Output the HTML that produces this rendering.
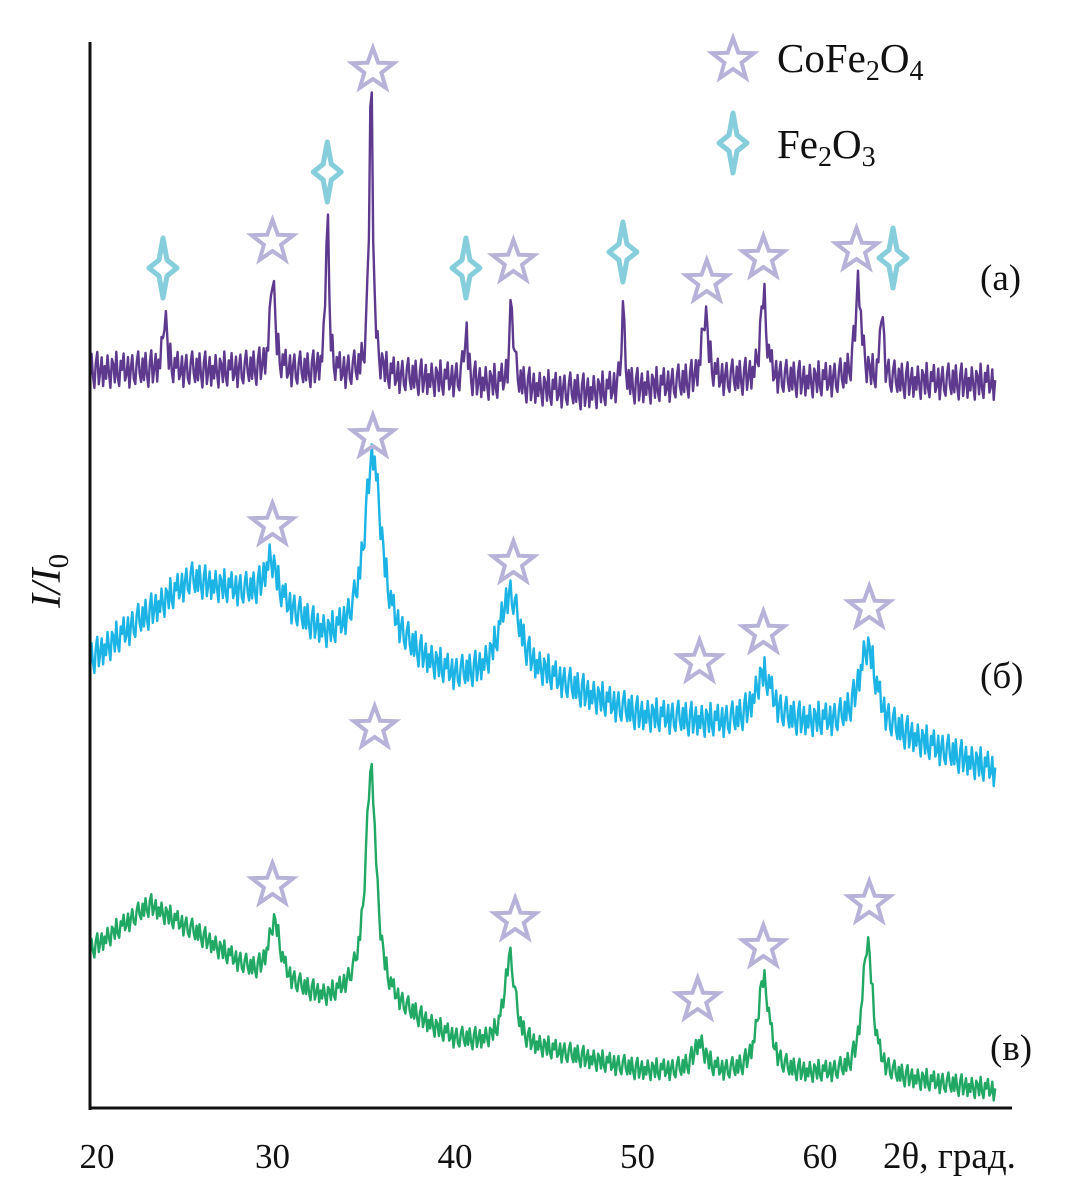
<!DOCTYPE html>
<html><head><meta charset="utf-8"><style>
html,body{margin:0;padding:0;background:#fff;}
svg text{font-family:"Liberation Serif","DejaVu Serif",serif;fill:#111;}
</style></head><body>
<svg id="chart" width="1069" height="1197" viewBox="0 0 1069 1197" xmlns="http://www.w3.org/2000/svg">
<g id="series"></g>
<g id="markers"></g>
<line x1="90" y1="42" x2="90" y2="1110" stroke="#111" stroke-width="3"/>
<line x1="89" y1="1108" x2="1012" y2="1108" stroke="#111" stroke-width="3"/>
<g id="xticks"></g>
<text x="883" y="1168" font-size="37">2θ, град.</text>
<text transform="translate(60,608) rotate(-90)" font-size="42" font-style="italic">I/I<tspan font-size="29" dy="8" font-style="normal">0</tspan></text>
<text x="777" y="72" font-size="41">CoFe<tspan font-size="28" dy="8">2</tspan><tspan dy="-8">O</tspan><tspan font-size="28" dy="8">4</tspan></text>
<text x="777" y="158" font-size="41">Fe<tspan font-size="28" dy="8">2</tspan><tspan dy="-8">O</tspan><tspan font-size="28" dy="8">3</tspan></text>
<text x="980" y="290" font-size="37">(а)</text>
<text x="980" y="688" font-size="37">(б)</text>
<text x="990" y="1060" font-size="37">(в)</text>
</svg>
<script>
// x tick labels
const xTicks = [20, 30, 40, 50, 60];
// Series (a) — purple
const baseA_x = [20, 30, 40, 47, 55, 69.5];
const baseA_y = [370, 370, 380, 392, 380, 382];
const peaksA_pos = [24.1, 30.0, 33.0, 35.4, 40.6, 43.1, 49.2, 53.7, 56.9, 62.1, 63.4];
const peaksA_h   = [60, 100, 170, 300, 55, 88, 80, 70, 85, 98, 78];
const peaksA_w   = [0.12, 0.15, 0.1, 0.12, 0.1, 0.12, 0.1, 0.2, 0.2, 0.2, 0.1];
// Series (б) — cyan
const baseB_x = [20, 25.5, 30, 33, 36, 40, 45, 50, 55, 60, 65, 69.5];
const baseB_y = [660, 580, 600, 640, 640, 680, 680, 715, 725, 725, 740, 770];
const peaksB_pos = [29.9, 35.5, 43.0, 56.9, 62.6];
const peaksB_h   = [40, 185, 85, 50, 85];
const peaksB_w   = [0.4, 0.55, 0.7, 0.6, 0.6];
// Series (в) — green
const baseC_x = [20, 23.3, 26, 29, 33, 35, 40, 45, 50, 55, 60, 65, 69.5];
const baseC_y = [950, 905, 935, 975, 1000, 990, 1040, 1050, 1070, 1075, 1075, 1080, 1090];
const peaksC_pos = [30.1, 35.4, 43.0, 53.4, 56.9, 62.6];
const peaksC_h   = [60, 225, 90, 30, 95, 135];
const peaksC_w   = [0.4, 0.35, 0.35, 0.4, 0.4, 0.35];
// hand-typed noise pattern
const noise = [0.6,-0.9,0.3,1.0,-0.4,-1.0,0.8,0.1,-0.7,0.9,-0.2,0.5,-0.8,0.2,1.0,-0.6,-0.3,0.7,-1.0,0.4,0.9,-0.5,0.0,-0.9,0.6,0.3,-0.7,1.0,-0.1,-0.8,0.5,0.8,-0.4,-1.0,0.2,0.7,-0.6];
// markers
const starX = [30.0,35.5,43.2,53.8,56.9,62.0, 30.0,35.5,43.2,53.4,56.9,62.7, 30.0,35.6,43.3,53.3,56.9,62.7];
const starY = [242,70,262,282,258,250, 525,437,563,662,633,608, 885,728,920,1000,947,903];
const feX = [24.0, 33.0, 40.6, 49.2, 64.0];
const feY = [268, 172, 268, 252, 258];

const NS = "http://www.w3.org/2000/svg";
function xs(d){ return 90 + (d - 20) * 18.25; }
function interp(xa, ya, x){
  for (let i = 0; i < xa.length - 1; i++) if (x <= xa[i+1]) return ya[i] + (ya[i+1]-ya[i])*(x-xa[i])/(xa[i+1]-xa[i]);
  return ya[ya.length-1];
}
function drawSeries(bx, by, pp, ph, pw, amp, color, name){
  let pts = [];
  let k = 0;
  for (let d = 20; d <= 69.6; d += 0.08, k++){
    let y = interp(bx, by, d);
    for (let j = 0; j < pp.length; j++){ const t = (d - pp[j]) / pw[j]; y -= ph[j] / (1 + t*t); }
    y += noise[k % noise.length] * amp;
    pts.push(xs(d).toFixed(1) + "," + y.toFixed(1));
  }
  const p = document.createElementNS(NS, "polyline");
  p.setAttribute("points", pts.join(" "));
  p.setAttribute("fill", "none");
  p.setAttribute("stroke", color);
  p.setAttribute("stroke-width", "2.4");
  p.setAttribute("stroke-linejoin", "round");
  
  
  document.getElementById("series").appendChild(p);
}
drawSeries(baseA_x, baseA_y, peaksA_pos, peaksA_h, peaksA_w, 18, "#5e3a8e", "series-a");
drawSeries(baseB_x, baseB_y, peaksB_pos, peaksB_h, peaksB_w, 17, "#1bb4e4", "series-b");
drawSeries(baseC_x, baseC_y, peaksC_pos, peaksC_h, peaksC_w, 11, "#21a865", "series-v");

function star(cx, cy, name){
  let pts = [];
  for (let i = 0; i < 10; i++){
    const r = i % 2 ? 9 : 22, a = -Math.PI/2 + i*Math.PI/5;
    pts.push((cx + r*Math.cos(a)).toFixed(1) + "," + (cy + r*Math.sin(a)).toFixed(1));
  }
  const p = document.createElementNS(NS, "polygon");
  p.setAttribute("points", pts.join(" "));
  p.setAttribute("fill", "none");
  p.setAttribute("stroke", "#b6b2d8");
  p.setAttribute("stroke-width", "4");
  
  
  document.getElementById("markers").appendChild(p);
}
function feMark(cx, cy, name){
  const d = `M${cx},${cy-30} L${cx+4},${cy-8} L${cx+14},${cy} L${cx+4},${cy+8} L${cx},${cy+30} L${cx-4},${cy+8} L${cx-14},${cy} L${cx-4},${cy-8} Z`;
  const p = document.createElementNS(NS, "path");
  p.setAttribute("d", d);
  p.setAttribute("fill", "none");
  p.setAttribute("stroke", "#86cedb");
  p.setAttribute("stroke-width", "5");
  p.setAttribute("stroke-linejoin", "round");
  
  
  document.getElementById("markers").appendChild(p);
}
for (let i = 0; i < starX.length; i++) star(xs(starX[i]), starY[i], "cofe2o4-marker");
for (let i = 0; i < feX.length; i++) feMark(xs(feX[i]), feY[i], "fe2o3-marker");
star(733, 60, "legend-star-cofe2o4");
feMark(733, 143, "legend-marker-fe2o3");

const tg = document.getElementById("xticks");
xTicks.forEach(v => {
  const t = document.createElementNS(NS, "text");
  t.setAttribute("x", xs(v) + (v === 20 ? 7 : 0));
  t.setAttribute("y", 1168);
  t.setAttribute("font-size", "35");
  t.setAttribute("text-anchor", "middle");
  t.textContent = v;
  
  
  tg.appendChild(t);
});
</script>
</body></html>
